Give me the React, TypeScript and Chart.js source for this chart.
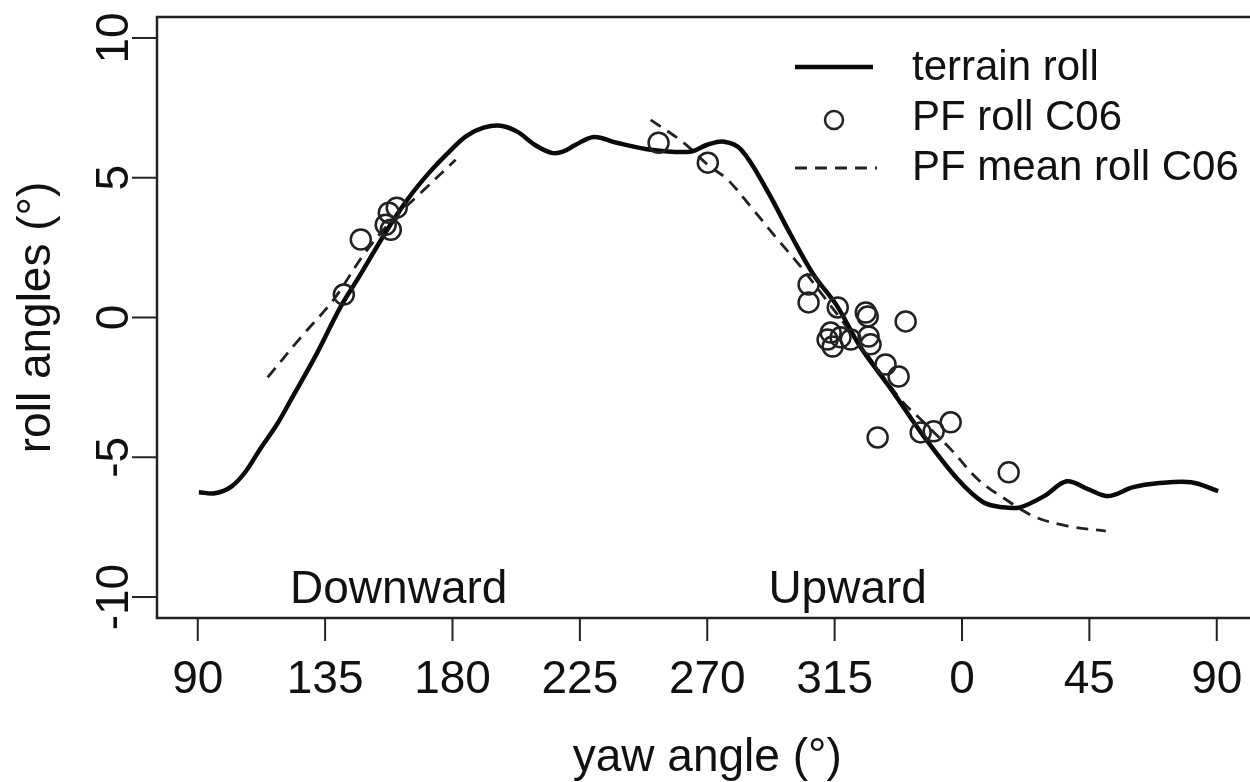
import React, { useEffect, useRef } from "react";
import { Chart, registerables } from "chart.js";

Chart.register(...registerables);

// ---- data (yaw unwrapped: 90..450, labels wrap at 360) ----
const terrainYaw = [90.4, 96, 102, 107, 112, 118, 123, 132, 140.5, 147.5, 156.5, 164, 172, 179.5, 185, 191, 197, 203, 209, 215, 219, 223.5, 230, 238, 250, 264, 270, 276, 282, 291, 299.5, 307.5, 316, 324, 335, 346.5, 358.5, 367.5, 374.5, 380.5, 389, 397, 404.5, 411.5, 420.5, 429, 441, 450.5];
const terrainRoll = [-6.25, -6.29, -6.04, -5.5, -4.71, -3.82, -2.93, -1.3, 0.39, 1.54, 3.07, 4.21, 5.21, 6.0, 6.5, 6.79, 6.86, 6.64, 6.18, 5.89, 5.93, 6.18, 6.46, 6.25, 6.0, 5.93, 6.18, 6.29, 6.0, 4.57, 2.96, 1.54, 0.39, -1.04, -2.57, -4.25, -5.79, -6.61, -6.79, -6.79, -6.39, -5.86, -6.14, -6.39, -6.07, -5.93, -5.89, -6.21];

const pfYaw = [141.6, 147.6, 156.4, 158.2, 157.5, 160.3, 252.8, 270.2, 305.8, 305.8, 316.1, 326.0, 326.7, 340.1, 313.6, 312.5, 314.3, 317.1, 320.7, 327.0, 327.7, 333.0, 337.6, 330.2, 345.4, 350.0, 356.0, 376.5];
const pfRoll = [0.82, 2.79, 3.32, 3.14, 3.75, 3.93, 6.25, 5.54, 1.18, 0.54, 0.36, 0.18, 0.04, -0.14, -0.54, -0.79, -1.04, -0.71, -0.79, -0.68, -0.96, -1.68, -2.11, -4.29, -4.11, -4.07, -3.75, -5.54];

const meanYaw = [114.7, 126.4, 138.0, 148.6, 158.2, 168.8, 181.1, 220, 250.0, 261.7, 270.2, 277.2, 285.4, 294.9, 303.0, 310.1, 324.2, 338.3, 346.5, 356.0, 365.6, 373.7, 385.3, 397.3, 410.8];
const meanRoll = [-2.14, -0.71, 0.64, 2.25, 3.43, 4.46, 5.64, null, 7.07, 6.25, 5.46, 4.93, 3.96, 2.79, 1.82, 0.89, -1.0, -2.93, -3.75, -4.71, -5.79, -6.39, -7.11, -7.46, -7.64];

const xTickValues = [90, 135, 180, 225, 270, 315, 360, 405, 450];
const xTickLabels = ["90", "135", "180", "225", "270", "315", "0", "45", "90"];
const yTickValues = [-10, -5, 0, 5, 10];
const yTickLabels = ["-10", "-5", "0", "5", "10"];
const legendLabels = ["terrain roll", "PF roll C06", "PF mean roll C06"];
const directionLabels = ["Downward", "Upward"];
const directionYaw = [161, 319.6];
const directionRoll = [-10.2, -10.2];
const xTitle = "yaw angle (°)";
const yTitle = "roll angles (°)";

const INK = "#111";
const FONT = "'Liberation Sans', Arial, Helvetica, sans-serif";

const rPlotPlugin = {
  id: "rPlot",
  afterDraw(chart: any) {
    const { ctx, chartArea: a, scales } = chart;
    const xs = scales.x;
    const ys = scales.y;
    ctx.save();
    ctx.strokeStyle = "#222";
    ctx.fillStyle = INK;
    // box
    ctx.lineWidth = 2.5;
    ctx.strokeRect(a.left, a.top, a.right - a.left, a.bottom - a.top);
    // x axis ticks and labels
    ctx.lineWidth = 2;
    ctx.font = `46px ${FONT}`;
    ctx.textAlign = "center";
    ctx.textBaseline = "alphabetic";
    xTickValues.forEach((v, i) => {
      const px = xs.getPixelForValue(v);
      ctx.beginPath();
      ctx.moveTo(px, a.bottom);
      ctx.lineTo(px, a.bottom + 23);
      ctx.stroke();
      ctx.fillText(xTickLabels[i], px, a.bottom + 75);
    });
    // y axis ticks and labels (rotated)
    yTickValues.forEach((v, i) => {
      const py = ys.getPixelForValue(v);
      ctx.beginPath();
      ctx.moveTo(a.left, py);
      ctx.lineTo(a.left - 25, py);
      ctx.stroke();
      ctx.save();
      ctx.translate(a.left - 29, py);
      ctx.rotate(-Math.PI / 2);
      ctx.textAlign = "center";
      ctx.fillText(yTickLabels[i], 0, 0);
      ctx.restore();
    });
    // axis titles
    ctx.fillText(xTitle, (xs.getPixelForValue(90) + xs.getPixelForValue(450)) / 2 + 0, a.bottom + 153);
    ctx.save();
    ctx.translate(a.left - 107, (a.top + a.bottom) / 2);
    ctx.rotate(-Math.PI / 2);
    ctx.fillText(yTitle, 0, 0);
    ctx.restore();
    // direction labels
    directionLabels.forEach((t, i) => {
      ctx.fillText(t, xs.getPixelForValue(directionYaw[i]), ys.getPixelForValue(directionRoll[i]));
    });
    // legend
    const ds = chart.data.datasets;
    const lx0 = 795, lx1 = 873, tx = 912;
    const rows = [68, 118, 168];
    ctx.font = `42px ${FONT}`;
    ctx.textAlign = "left";
    ctx.textBaseline = "middle";
    // solid
    ctx.strokeStyle = ds[0].borderColor;
    ctx.lineWidth = ds[0].borderWidth;
    ctx.setLineDash([]);
    ctx.beginPath();
    ctx.moveTo(lx0, rows[0] - 1);
    ctx.lineTo(lx1, rows[0] - 1);
    ctx.stroke();
    // circle
    ctx.strokeStyle = ds[1].borderColor;
    ctx.lineWidth = ds[1].borderWidth;
    ctx.beginPath();
    ctx.arc((lx0 + lx1) / 2, rows[1] + 2, 9, 0, Math.PI * 2);
    ctx.stroke();
    // dashed
    ctx.strokeStyle = ds[2].borderColor;
    ctx.lineWidth = ds[2].borderWidth;
    ctx.setLineDash(ds[2].borderDash);
    ctx.beginPath();
    ctx.moveTo(lx0, rows[2]);
    ctx.lineTo(lx1 + 4, rows[2]);
    ctx.stroke();
    ctx.setLineDash([]);
    legendLabels.forEach((t, i) => ctx.fillText(t, tx, rows[i]));
    ctx.restore();
  },
};

export default function App() {
  const ref = useRef<HTMLCanvasElement | null>(null);
  useEffect(() => {
    if (!ref.current) return;
    const chart = new Chart(ref.current, {
      type: "scatter",
      data: {
        datasets: [
          {
            label: legendLabels[0],
            data: terrainYaw.map((x, i) => ({ x, y: terrainRoll[i] })),
            showLine: true,
            borderColor: "#0a0a0a",
            borderWidth: 4.5,
            pointRadius: 0,
            tension: 0.35,
            order: 2,
          },
          {
            label: legendLabels[1],
            data: pfYaw.map((x, i) => ({ x, y: pfRoll[i] })),
            showLine: false,
            pointStyle: "circle",
            pointRadius: 10,
            pointBorderWidth: 2.5,
            borderWidth: 2.5,
            borderColor: "#222",
            pointBorderColor: "#222",
            pointBackgroundColor: "rgba(0,0,0,0)",
            backgroundColor: "rgba(0,0,0,0)",
            order: 1,
          },
          {
            label: legendLabels[2],
            data: meanYaw.map((x, i) => ({ x, y: meanRoll[i] as any })),
            showLine: true,
            spanGaps: false,
            borderColor: "#222",
            borderWidth: 2.8,
            borderDash: [12, 8],
            pointRadius: 0,
            tension: 0.35,
            order: 3,
          },
        ],
      },
      options: {
        responsive: false,
        maintainAspectRatio: false,
        animation: false,
        devicePixelRatio: 1,
        layout: { padding: { left: 157, top: 17, right: 12, bottom: 164 } },
        scales: {
          x: { type: "linear", min: 75.6, max: 464.4, display: false },
          y: { type: "linear", min: -10.75, max: 10.75, display: false },
        },
        plugins: {
          legend: { display: false },
          tooltip: { enabled: false },
        },
      },
      plugins: [rPlotPlugin],
    });
    return () => chart.destroy();
  }, []);
  return (
    <div style={{ position: "absolute", left: 0, top: 0, width: 1250, height: 782, overflow: "hidden", background: "#fff" }}>
      <canvas ref={ref} width={1270} height={782} style={{ display: "block" }} />
    </div>
  );
}
